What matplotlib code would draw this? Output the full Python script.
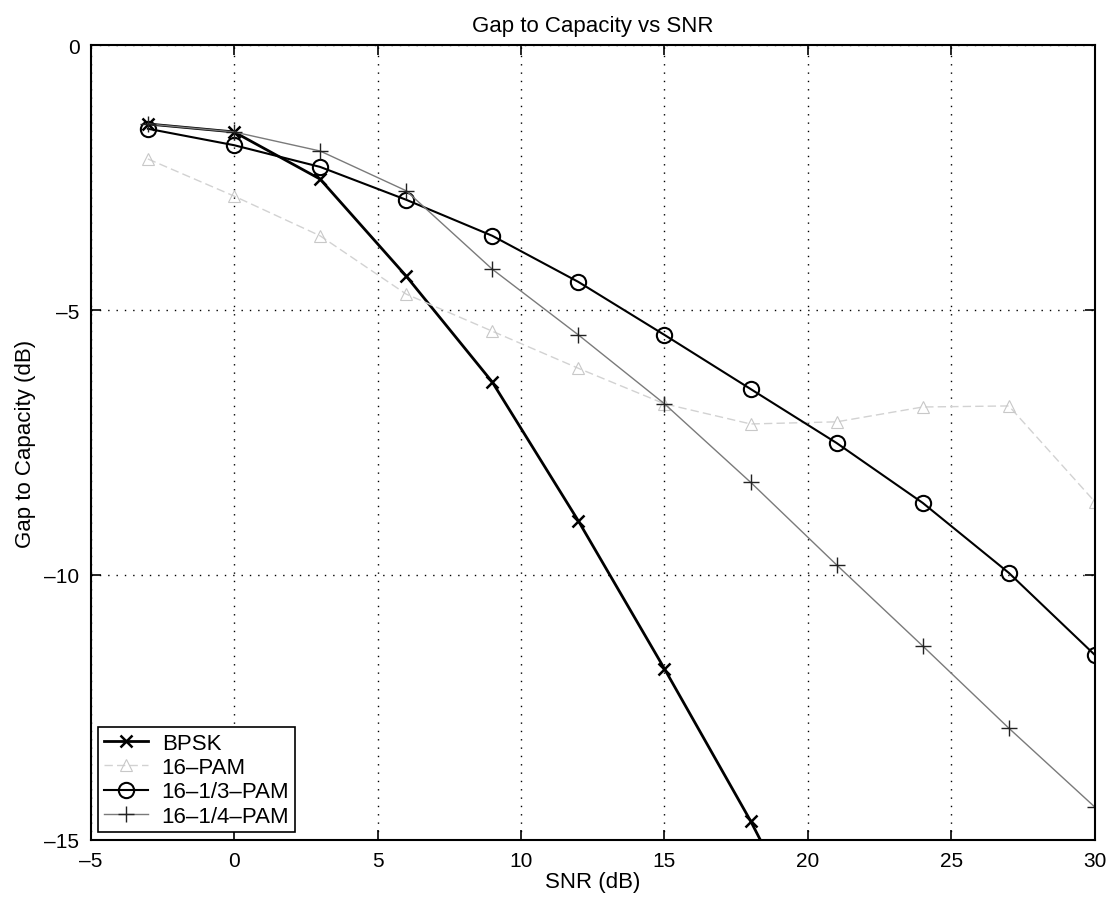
import matplotlib
matplotlib.use("Agg")
import matplotlib.pyplot as plt

plt.rcParams['font.family'] = ['Liberation Sans', 'DejaVu Sans']

# SNR points (dB), one every 3 dB
snr = [-3, 0, 3, 6, 9, 12, 15, 18, 21, 24, 27, 30]

# gap to capacity (dB) for each signalling scheme
gap_bpsk = [-1.49, -1.64, -2.53, -4.36, -6.36, -8.98, -11.77, -14.64, -17.8]
gap_16pam = [-2.15, -2.85, -3.6, -4.7, -5.4, -6.1, -6.77, -7.15, -7.11, -6.83, -6.81, -8.62]
gap_16_13pam = [-1.58, -1.89, -2.30, -2.92, -3.60, -4.47, -5.47, -6.49, -7.51, -8.64, -9.96, -11.51]
gap_16_14pam = [-1.49, -1.64, -2.0, -2.75, -4.23, -5.47, -6.77, -8.25, -9.81, -11.34, -12.89, -14.38]

x_ticks = [-5, 0, 5, 10, 15, 20, 25, 30]
y_ticks = [-15, -10, -5, 0]

fig = plt.figure(figsize=(11.15, 9.04), dpi=100)
ax = fig.add_axes([0.0812, 0.0697, 0.9008, 0.8794])

ax.plot(snr[:len(gap_bpsk)], gap_bpsk, color='black', lw=2.0, marker='x',
        ms=9, mew=1.8, label='BPSK')
ax.plot(snr, gap_16pam, color='#d2d2d2', lw=1.0, ls=(0, (6, 3)), marker='^', ms=8,
        mfc='none', mec='#c8c8c8', mew=0.8, label='16–PAM')
ax.plot(snr, gap_16_13pam, color='black', lw=1.5, marker='o', ms=11,
        mfc='none', mec='black', mew=1.5, label='16–1/3–PAM')
ax.plot(snr, gap_16_14pam, color='#7a7a7a', lw=1.0, marker='+', ms=11,
        mec='#222222', mew=1.0, label='16–1/4–PAM')

ax.set_xlim(-5, 30)
ax.set_ylim(-15, 0)
ax.set_xticks(x_ticks)
ax.set_yticks(y_ticks)
ax.set_xticklabels([str(t).replace('-', '–') for t in x_ticks])
ax.set_yticklabels([str(t).replace('-', '–') for t in y_ticks])

ax.grid(True, color='black', linestyle=(0, (1, 5)), linewidth=1.0)
ax.tick_params(direction='in', top=True, right=True, length=7, width=1.2,
               labelsize=15, pad=8)
for s in ax.spines.values():
    s.set_linewidth(1.5)

ax.set_title('Gap to Capacity vs SNR', fontsize=16, pad=10)
ax.set_xlabel('SNR (dB)', fontsize=16, labelpad=1)
ax.set_ylabel('Gap to Capacity (dB)', fontsize=16, labelpad=6)

leg = ax.legend(loc='lower left', fontsize=16, frameon=True, fancybox=False,
                edgecolor='black', framealpha=1, handlelength=2.0,
                labelspacing=0.15, borderpad=0.25, handletextpad=0.6,
                borderaxespad=0.35)
leg.get_frame().set_linewidth(1.2)

fig.savefig('out.png', dpi=100)
